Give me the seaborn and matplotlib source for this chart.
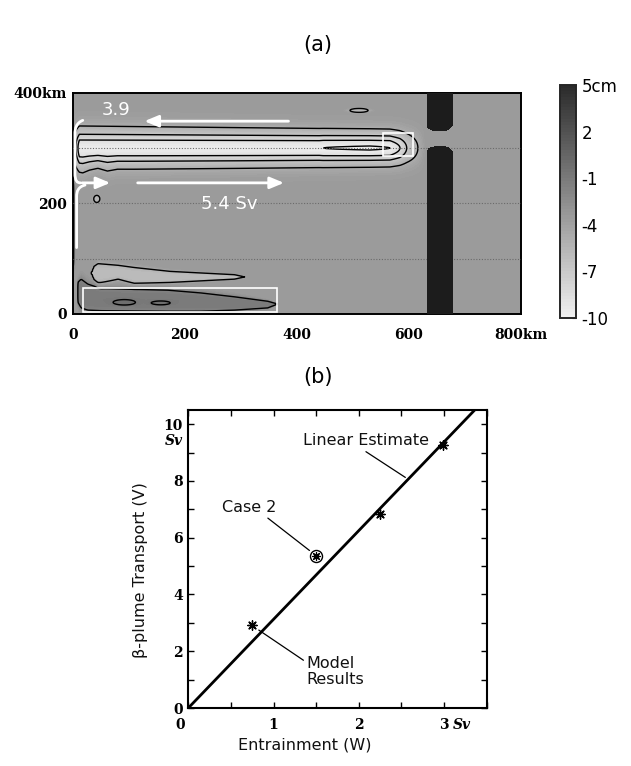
import numpy as np
import matplotlib
matplotlib.use("Agg")
import matplotlib.pyplot as plt
import matplotlib.transforms as mtransforms
import seaborn as sns
from matplotlib.colors import LinearSegmentedColormap
from matplotlib.path import Path
from matplotlib.patches import FancyArrowPatch, Rectangle

# ---------------- panel (a): surface elevation (cm) ----------------
background_level = -3.5

# westward beta plume centred on y = 300 km
plume_axis_y = 300.0
plume_x = [0, 3, 12, 440, 447, 530, 566, 584, 596, 616, 630]
plume_amp = [0, -2.5, -6.0, -6.1, -6.2, -6.3, -6.2, -5.0, -3.5, -1.5, 0]
plume_width_x = [0, 300, 620]
plume_width = [24, 22, 20]
# southern flank meanders near the western wall
plume_south_x = [0, 18, 30, 45, 62, 80, 110, 300, 620]
plume_south_width = [25, 27, 24, 22, 25, 23, 23, 22, 20]

# shallow anomalies near the southern boundary (edges in km)
light_x = [33, 38, 45, 81, 110, 174, 289, 307]
light_top = [74, 86, 91, 88, 84, 77, 71, 67]
light_bot = [74, 62, 55, 63, 55, 57, 63, 67]
dark_x = [8, 10, 15, 27, 51, 170, 229, 289, 348, 366]
dark_top = [36, 58, 63, 54, 46, 43, 38, 31, 23, 18]
dark_bot = [36, 20, 11, 7, 6, 5, 5, 7, 11, 18]

# small closed eddies: centre x, centre y, half-axes, amplitude
eddy_cx = [92, 157, 43, 511]
eddy_cy = [21, 20, 208, 368]
eddy_ax = [20, 17, 5.5, 16]
eddy_ay = [5, 3.5, 6.5, 3.5]
eddy_amp = [1.0, 1.0, -2.0, -2.0]
eddy_edge = [0.5, 0.5, -1.5, -1.5]

# western boundary layer
wall_amp = 2.5
wall_width = 2.5
wall_y = (80, 245)

# topographic ridge with a gap
ridge_x = (633, 676)
ridge_gap = (303, 331)
ridge_cap = 9.0

contour_levels = [-9.7, -8.5, -7.0, -5.0, -2.0, -0.5]
cbar_ticks = [5, 2, -1, -4, -7, -10]
cbar_labels = ["5cm", "2", "-1", "-4", "-7", "-10"]
cbar_minor = [3.5, 0.5, -2.5, -5.5, -8.5]
grid_y = [100, 200, 300]

# transport annotations
flow_west = (390, 123, 348.5)
flow_east_short = (12, 72, 237)
flow_east_long = (111, 382, 237)

# ---------------- panel (b): transport vs entrainment ----------------
model_w = [0.75, 2.25, 2.99]
model_v = [2.92, 6.84, 9.26]
case2_w = [1.50]
case2_v = [5.35]
linear_w = [0.0, 3.36]
linear_v = [0.0, 10.5]


def lens(X, Y, xs, top, bot, amp, edge):
    xs = np.asarray(xs, float)
    top = np.asarray(top, float)
    bot = np.asarray(bot, float)
    mid = np.interp(X, xs, (top + bot) / 2)
    half = np.interp(X, xs, (top - bot) / 2)
    inside = (X >= xs[0]) & (X <= xs[-1]) & (half > 0)
    r = np.where(inside, (Y - mid) / np.where(half > 0, half, 1.0), 1e3)
    return amp * np.exp(-np.log(amp / edge) * np.minimum(r ** 4, 50))


def bump(X, Y, cx, cy, ax_, ay_, amp, edge):
    q2 = ((X - cx) / ax_) ** 2 + ((Y - cy) / ay_) ** 2
    return amp * np.exp(-np.log(amp / edge) * np.minimum(q2 ** 2, 50))


xg = np.arange(0, 801, 2.0)
yg = np.arange(0, 401, 1.0)
X, Y = np.meshgrid(xg, yg)

field = np.full_like(X, background_level)
amp = np.interp(X, plume_x, plume_amp)
sig_n = np.interp(X, plume_width_x, plume_width)
sig_s = np.interp(X, plume_south_x, plume_south_width)
sig = np.where(Y >= plume_axis_y, sig_n, sig_s)
field += amp * np.exp(-0.5 * ((Y - plume_axis_y) / sig) ** 2)
field += lens(X, Y, light_x, light_top, light_bot, -2.5, -1.5)
field += lens(X, Y, dark_x, dark_top, dark_bot, 2.5, 1.5)
for cx, cy, a1, a2, am, ed in zip(eddy_cx, eddy_cy, eddy_ax, eddy_ay, eddy_amp, eddy_edge):
    field += bump(X, Y, cx, cy, a1, a2, am, ed)
field += (wall_amp * np.exp(-(X / wall_width) ** 2)
          * 0.5 * (np.tanh((Y - wall_y[0]) / 10) - np.tanh((Y - wall_y[1]) / 10)))
field = np.clip(field, -9.99, 4.99)

dy = np.where(Y >= ridge_gap[1], Y - ridge_gap[1],
              np.where(Y <= ridge_gap[0], ridge_gap[0] - Y, -1.0))
frac = np.clip(dy / ridge_cap, 0, 1)
halfw = (ridge_x[1] - ridge_x[0]) / 2 * np.sqrt(1 - (1 - frac) ** 2)
ridge = ((dy >= 0) & (np.abs(X - np.mean(ridge_x)) <= halfw)).astype(float)

# ---------------- figure ----------------
sns.set_theme(style="ticks")
plt.rcParams["font.family"] = ["DejaVu Sans"]
plt.rcParams["axes.linewidth"] = 1.4
plt.rcParams["text.color"] = "black"
plt.rcParams["axes.labelcolor"] = "black"
plt.rcParams["xtick.color"] = "black"
plt.rcParams["ytick.color"] = "black"
plt.rcParams["contour.negative_linestyle"] = "solid"
serif_bold = dict(family="DejaVu Serif", weight="bold", size=10, color="black")

fig = plt.figure(figsize=(6.31, 7.66), dpi=100)
ax_a = fig.add_axes([0.1152, 0.5901, 0.7105, 0.2889])
cax = fig.add_axes([0.8875, 0.5849, 0.0254, 0.3042])
ax_b = fig.add_axes([0.2984, 0.0757, 0.4729, 0.3891])

cmap = LinearSegmentedColormap.from_list("elev", ["#f1f1f1", "#2a2a2a"])
cf = ax_a.contourf(X, Y, field, levels=np.linspace(-10, 5, 76), cmap=cmap,
                   vmin=-10, vmax=5)
ax_a.contour(X, Y, field, levels=contour_levels, colors="black",
             linewidths=1.0, linestyles="solid")
for gy in grid_y:
    ax_a.axhline(gy, color="#6a6a6a", lw=0.8, ls=(0, (1, 1.5)), zorder=3)
ax_a.contourf(X, Y, ridge, levels=[0.5, 1.5], colors=["#1c1c1c"], zorder=4)

ax_a.add_patch(Rectangle((18, 4), 347, 43, fill=False, ec="white", lw=1.2, zorder=5))
ax_a.add_patch(Rectangle((553, 286), 55, 42, fill=False, ec="white", lw=1.2, zorder=5))

arrow_kw = dict(arrowstyle="-|>,head_length=0.6,head_width=0.25", color="white",
                lw=2.0, mutation_scale=14, zorder=6)
for x0, x1, yy in (flow_west, flow_east_short, flow_east_long):
    ax_a.add_patch(FancyArrowPatch((x0, yy), (x1, yy), **arrow_kw))

brace_a = Path([(18, 350), (6, 345), (4, 335), (4, 325), (4, 255),
                (4, 240), (8, 237), (14, 237)],
               [Path.MOVETO, Path.CURVE4, Path.CURVE4, Path.CURVE4, Path.LINETO,
                Path.CURVE4, Path.CURVE4, Path.CURVE4])
brace_b = Path([(22, 233), (10, 230), (7, 222), (7, 212), (7, 120)],
               [Path.MOVETO, Path.CURVE4, Path.CURVE4, Path.CURVE4, Path.LINETO])
for pth in (brace_a, brace_b):
    ax_a.add_patch(FancyArrowPatch(path=pth, arrowstyle="-", color="white",
                                   lw=2.0, zorder=6))

ax_a.text(78, 368, "3.9", color="white", fontsize=13, ha="center", va="center", zorder=7)
ax_a.text(280, 199, "5.4 Sv", color="white", fontsize=13, ha="center", va="center", zorder=7)

ax_a.set_xlim(0, 800)
ax_a.set_ylim(0, 400)
ax_a.set_xticks([0, 200, 400, 600, 800])
ax_a.set_xticklabels(["0", "200", "400", "600", "800km"], **serif_bold)
ax_a.set_yticks([0, 200, 400])
ax_a.set_yticklabels(["0", "200", "400km"], **serif_bold)
ax_a.tick_params(axis="x", length=0, pad=10)
ax_a.tick_params(axis="y", length=0, pad=4)
for sp in ax_a.spines.values():
    sp.set_color("black")
    sp.set_visible(True)

cb = fig.colorbar(cf, cax=cax, ticks=cbar_ticks)
cb.set_ticklabels(cbar_labels)
cb.outline.set_linewidth(1.4)
cax.set_yticks(cbar_minor, minor=True)
cax.tick_params(which="both", direction="in", length=3, width=0.8, color="#222222",
                labelsize=12, pad=4, labelcolor="black")

fig.text(0.504, 0.941, "(a)", ha="center", va="center", fontsize=15, color="black")
fig.text(0.504, 0.508, "(b)", ha="center", va="center", fontsize=15, color="black")

# ---------------- panel (b) ----------------
sns.lineplot(x=linear_w, y=linear_v, color="black", lw=2.0, ax=ax_b)
sns.scatterplot(x=model_w, y=model_v, marker=(8, 2, 0), s=45, color="black",
                edgecolor="black", linewidth=1.0, ax=ax_b, zorder=4)
ax_b.scatter(case2_w, case2_v, marker="o", s=75, facecolors="white",
             edgecolors="black", linewidths=1.0, zorder=4)
sns.scatterplot(x=case2_w, y=case2_v, marker=(8, 2, 0), s=30, color="black",
                edgecolor="black", linewidth=0.9, ax=ax_b, zorder=5)

ax_b.set_xlim(0, 3.5)
ax_b.set_ylim(0, 10.5)
ax_b.set_xticks(np.arange(0, 3.51, 0.5))
ax_b.set_xticklabels(["0", "", "1", "", "2", "", "3", ""], **serif_bold)
ax_b.set_yticks(np.arange(0, 10.5, 1))
ax_b.set_yticklabels([str(v) if v % 2 == 0 else "" for v in range(11)], **serif_bold)
ax_b.tick_params(direction="in", length=4, width=1, top=True, right=True,
                 color="black")
ax_b.tick_params(axis="x", pad=7)
ax_b.tick_params(axis="y", pad=4)
for sp in ax_b.spines.values():
    sp.set_color("black")
    sp.set_linewidth(1.5)
# the origin label sits a little left of its tick
zero_lbl = ax_b.get_xticklabels()[0]
zero_lbl.set_transform(zero_lbl.get_transform()
                       + mtransforms.ScaledTranslation(-0.08, 0, fig.dpi_scale_trans))

ax_b.annotate("Sv", xy=(3, 0), xycoords=("data", "axes fraction"),
              xytext=(6, -7), textcoords="offset points", ha="left", va="top",
              family="DejaVu Serif", weight="bold", style="italic", size=10)
ax_b.annotate("Sv", xy=(0, 9.41), xycoords=("axes fraction", "data"),
              xytext=(-3.5, 0), textcoords="offset points", ha="right", va="center",
              family="DejaVu Serif", weight="bold", style="italic", size=10)

label_font = dict(family="DejaVu Sans", size=11.5, color="#111111")
ax_b.set_xlabel("Entrainment (W)", **label_font)
ax_b.xaxis.set_label_coords(0.391, -0.10)
ax_b.set_ylabel("β-plume Transport (V)", **label_font)
ax_b.yaxis.set_label_coords(-0.135, 0.463)

line_kw = dict(arrowstyle="-", color="black", lw=0.9, shrinkA=0, shrinkB=2)
ax_b.annotate("Linear Estimate", xy=(2.573, 8.07), xytext=(2.084, 9.41),
              ha="center", va="center", arrowprops=dict(relpos=(0.46, 0.0), **line_kw),
              **label_font)
ax_b.annotate("Case 2", xy=(1.447, 5.49), xytext=(0.715, 7.07),
              ha="center", va="center", arrowprops=dict(relpos=(0.8, -0.1), **line_kw),
              **label_font)
ax_b.annotate("Model\nResults", xy=(0.80, 2.80), xytext=(1.389, 1.275),
              ha="left", va="center", linespacing=1.1,
              arrowprops=dict(relpos=(0.0, 0.8), **line_kw), **label_font)

fig.savefig("out.png", dpi=100)
